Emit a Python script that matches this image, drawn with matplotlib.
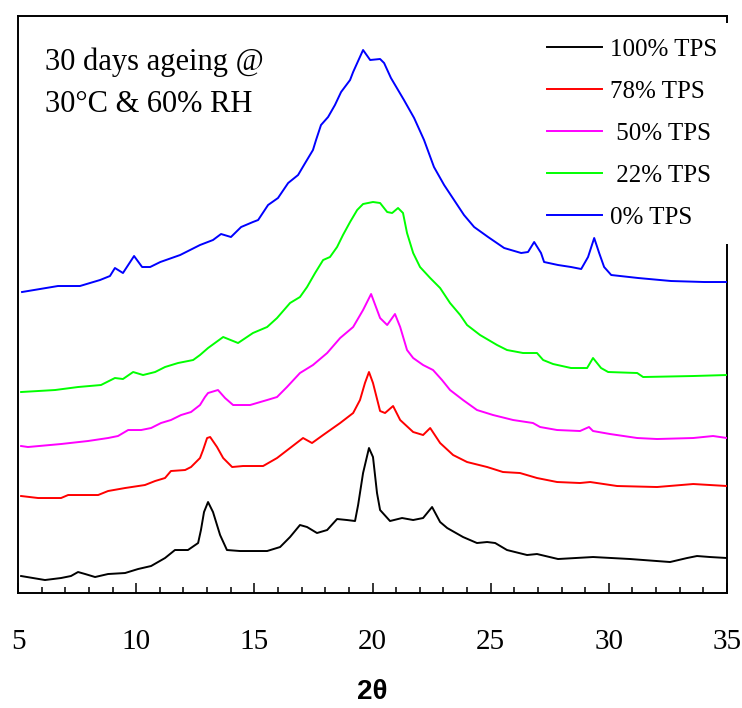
import matplotlib
matplotlib.use("Agg")
import matplotlib.pyplot as plt
from matplotlib.ticker import MultipleLocator

# XRD patterns (stacked, arbitrary intensity units) after 30 days ageing
labels = ["100% TPS", "78% TPS", " 50% TPS", " 22% TPS", "0% TPS"]
colors = ["#000000", "#ff0000", "#ff00ff", "#00ff00", "#0000ff"]

tps100_x = [5.13, 6.14, 6.82, 7.24, 7.54, 7.84, 8.26, 8.81, 9.53, 10.08, 10.63,
            11.22, 11.64, 12.19, 12.62, 12.74, 12.87, 13.04, 13.25, 13.55, 13.84,
            14.39, 15.54, 16.09, 16.51, 16.93, 17.23, 17.65, 18.08, 18.50, 18.92,
            19.26, 19.39, 19.60, 19.85, 20.02, 20.19, 20.32, 20.74, 21.25, 21.72,
            22.14, 22.52, 22.86, 23.16, 23.83, 24.42, 24.85, 25.19, 25.69, 26.54,
            26.96, 27.85, 29.33, 30.90, 32.59, 33.31, 33.73, 34.28, 35.0]
tps100_y = [17, 13, 15, 17, 21, 19, 16, 19, 20, 24, 27,
            35, 43, 43, 50, 63, 81, 91, 81, 58, 43,
            42, 42, 46, 56, 68, 66, 60, 63, 74, 73,
            72, 88, 120, 145, 136, 100, 83, 72, 75, 73,
            75, 86, 71, 65, 56, 50, 51, 50, 43, 38,
            39, 34, 36, 34, 31, 35, 37, 36, 35]

tps78_x = [5.13, 5.85, 6.82, 7.12, 8.39, 8.81, 9.53, 10.37, 10.80, 11.22, 11.47,
           12.07, 12.32, 12.70, 12.83, 13.00, 13.13, 13.42, 13.68, 14.06, 14.52,
           15.37, 15.96, 16.51, 17.06, 17.44, 17.91, 18.63, 19.18, 19.47, 19.68,
           19.85, 20.02, 20.32, 20.53, 20.87, 21.17, 21.72, 22.14, 22.44, 22.86,
           23.41, 24.00, 24.85, 25.52, 26.24, 26.96, 27.81, 28.78, 29.21, 30.35,
           32.04, 33.57, 35.0]
tps78_y = [97, 95, 95, 98, 98, 102, 105, 108, 112, 115, 122,
           123, 126, 135, 143, 155, 156, 146, 135, 126, 127,
           127, 135, 145, 155, 150, 158, 170, 180, 193, 210,
           221, 210, 182, 180, 187, 173, 161, 158, 165, 150,
           138, 131, 126, 121, 120, 115, 111, 110, 111, 107,
           106, 109, 107]

tps50_x = [5.13, 5.42, 6.82, 7.96, 8.81, 9.23, 9.66, 10.21, 10.63, 11.05, 11.47,
           11.90, 12.32, 12.70, 12.91, 13.04, 13.46, 13.76, 14.10, 14.82, 15.54,
           15.96, 16.38, 16.93, 17.48, 18.08, 18.63, 19.18, 19.60, 19.94, 20.32,
           20.62, 20.95, 21.17, 21.46, 21.72, 22.14, 22.56, 22.94, 23.28, 23.83,
           24.42, 25.10, 25.95, 26.79, 27.09, 27.81, 28.78, 29.16, 29.33, 30.05,
           31.20, 32.04, 33.57, 34.41, 35.0]
tps50_y = [147, 146, 149, 152, 155, 157, 163, 163, 165, 170, 173,
           178, 181, 188, 196, 200, 203, 195, 188, 188, 193,
           196, 206, 220, 228, 240, 255, 266, 283, 299, 275,
           268, 279, 266, 243, 235, 228, 223, 213, 203, 193,
           183, 178, 173, 170, 166, 163, 162, 166, 162, 159,
           155, 154, 155, 157, 155]

tps22_x = [5.13, 6.57, 7.54, 8.51, 9.10, 9.44, 9.87, 10.29, 10.80, 11.22, 11.77,
           12.41, 12.70, 13.04, 13.68, 14.31, 14.94, 15.54, 15.96, 16.51, 16.93,
           17.23, 17.57, 17.91, 18.20, 18.50, 18.75, 19.05, 19.35, 19.60, 20.02,
           20.32, 20.62, 20.83, 21.08, 21.29, 21.46, 21.72, 22.01, 22.44, 22.86,
           23.28, 23.71, 24.00, 24.55, 25.27, 25.69, 26.37, 26.96, 27.22, 27.64,
           28.40, 29.08, 29.33, 29.67, 29.97, 31.20, 31.45, 33.57, 35.0]
tps22_y = [201, 203, 206, 208, 215, 214, 221, 218, 221, 226, 230,
           233, 238, 245, 256, 250, 260, 266, 275, 290, 296,
           306, 320, 333, 336, 346, 358, 371, 383, 389, 391,
           390, 381, 380, 385, 380, 360, 340, 326, 315, 305,
           290, 278, 268, 258, 248, 243, 240, 240, 233, 229,
           225, 225, 235, 225, 221, 220, 216, 217, 218]

tps0_x = [5.17, 6.69, 7.62, 8.47, 8.89, 9.10, 9.44, 9.91, 10.25, 10.59, 11.02,
          11.86, 12.70, 13.25, 13.59, 14.01, 14.44, 14.94, 15.16, 15.58, 16.00,
          16.43, 16.85, 17.15, 17.48, 17.61, 17.82, 18.12, 18.41, 18.67, 19.05,
          19.18, 19.60, 19.90, 20.32, 20.49, 20.78, 21.33, 21.76, 22.18, 22.60,
          23.03, 23.45, 23.87, 24.30, 24.89, 25.57, 26.29, 26.58, 26.84, 27.13,
          27.26, 27.85, 28.40, 28.83, 29.12, 29.38, 29.59, 29.80, 30.10, 31.24,
          32.63, 34.03, 35.0]
tps0_y = [301, 307, 307, 313, 317, 325, 320, 337, 326, 326, 331,
          338, 348, 353, 359, 356, 366, 371, 373, 388, 395,
          410, 418, 430, 443, 453, 468, 476, 488, 501, 513,
          521, 543, 533, 534, 530, 515, 493, 475, 453, 426,
          408, 393, 378, 366, 356, 345, 340, 341, 351, 340,
          331, 328, 326, 324, 336, 355, 340, 326, 318, 315,
          312, 311, 311]

series_x = [tps100_x, tps78_x, tps50_x, tps22_x, tps0_x]
series_y = [tps100_y, tps78_y, tps50_y, tps22_y, tps0_y]

plt.rcParams["font.family"] = ["Liberation Serif", "DejaVu Serif"]

fig = plt.figure(figsize=(7.42, 7.08), dpi=100)
ax = fig.add_axes([0.0243, 0.1624, 0.9555, 0.815])

for xs, ys, color, label in zip(series_x, series_y, colors, labels):
    ax.plot(xs, ys, color=color, lw=1.4, label=label, zorder=3)

ax.set_xlim(5, 35)
ax.set_ylim(0, 577)
ax.set_yticks([])
ax.xaxis.set_major_locator(MultipleLocator(5))
ax.xaxis.set_minor_locator(MultipleLocator(1))
ax.tick_params(axis="x", which="major", direction="in", length=7, width=1.1,
               pad=26, labelsize=21)
ax.tick_params(axis="x", which="minor", direction="in", length=4.5, width=1.1)
for spine in ax.spines.values():
    spine.set_linewidth(1.4)

ax.set_xlabel("2θ", fontsize=20, fontweight="bold",
              family=["Liberation Sans", "DejaVu Sans"], labelpad=17)

ax.text(0.038, 0.945, "30 days ageing @\n30°C & 60% RH", transform=ax.transAxes,
        ha="left", va="top", fontsize=22, linespacing=1.6)

# white legend box sits over the right spine but under the curves
leg = ax.legend(loc="upper right", bbox_to_anchor=(1.0247, 1.0095), fontsize=18,
                frameon=True, fancybox=False, framealpha=1, edgecolor="none",
                handlelength=2.2, handletextpad=0.3, labelspacing=0.78,
                borderpad=0.6)
leg.set_zorder(2.8)
for line in leg.get_lines():
    line.set_linewidth(1.4)

fig.savefig("out.png", dpi=100)
